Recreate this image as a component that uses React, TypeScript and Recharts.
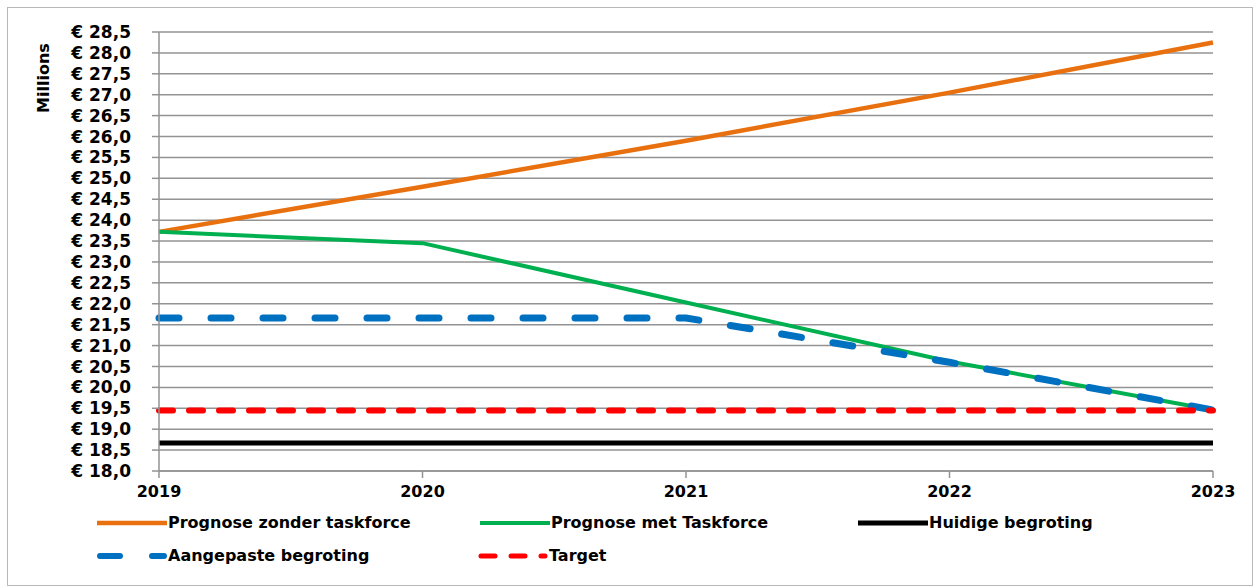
import React from "react";
import {
  CartesianGrid,
  Legend,
  Line,
  LineChart,
  XAxis,
  YAxis,
} from "recharts";

const YEARS = ["2019", "2020", "2021", "2022", "2023"];
const ZONDER_TASKFORCE = [23.72, 24.8, 25.9, 27.05, 28.25];
const MET_TASKFORCE = [23.72, 23.45, 22.03, 20.62, 19.46];
const HUIDIGE_BEGROTING = [18.67, 18.67, 18.67, 18.67, 18.67];
const AANGEPASTE_BEGROTING = [21.66, 21.66, 21.66, 20.6, 19.46];
const TARGET = [19.45, 19.45, 19.45, 19.45, 19.45];

const Y_TICKS = [
  18, 18.5, 19, 19.5, 20, 20.5, 21, 21.5, 22, 22.5, 23, 23.5, 24, 24.5, 25,
  25.5, 26, 26.5, 27, 27.5, 28, 28.5,
];

const FONT = "'DejaVu Sans', Verdana, sans-serif";

const data = YEARS.map((year, i) => ({
  year,
  zonder: ZONDER_TASKFORCE[i],
  met: MET_TASKFORCE[i],
  huidige: HUIDIGE_BEGROTING[i],
  aangepast: AANGEPASTE_BEGROTING[i],
  target: TARGET[i],
}));

type SeriesDef = {
  key: string;
  name: string;
  color: string;
  width: number;
  dash?: string;
  // legend slot
  lx: number;
  row: number;
};

const SERIES: SeriesDef[] = [
  { key: "zonder", name: "Prognose zonder taskforce", color: "#E8700E", width: 4.5, lx: 97, row: 0 },
  { key: "met", name: "Prognose met Taskforce", color: "#00B050", width: 4, lx: 480, row: 0 },
  { key: "huidige", name: "Huidige begroting", color: "#000000", width: 5, lx: 858, row: 0 },
  { key: "aangepast", name: "Aangepaste begroting", color: "#0070C0", width: 7, dash: "20 32", lx: 97, row: 1 },
  { key: "target", name: "Target", color: "#FF0000", width: 6, dash: "14 16", lx: 478, row: 1 },
];

const fmtEuro = (v: number) => `€ ${v.toFixed(1).replace(".", ",")}`;

function LegendBlock() {
  return (
    <div style={{ position: "relative", width: 1257, height: 80 }}>
      {SERIES.map((s) => {
        const top = s.row === 0 ? 15 : 48;
        return (
          <div key={s.key}>
            <svg
              width={74}
              height={12}
              style={{ position: "absolute", left: s.lx - 2, top: top - 6 }}
            >
              <line
                x1={s.dash ? 5 : 2}
                y1={6}
                x2={s.dash ? 69 : 72}
                y2={6}
                stroke={s.color}
                strokeWidth={s.dash ? s.width - 1 : s.width}
                strokeDasharray={s.dash}
                strokeLinecap={s.dash ? "round" : "butt"}
              />
            </svg>
            <span
              style={{
                position: "absolute",
                left: s.lx + 71,
                top: top - 10,
                fontFamily: FONT,
                fontWeight: "bold",
                fontSize: 16,
                lineHeight: "20px",
                whiteSpace: "nowrap",
                color: "#000",
              }}
            >
              {s.name}
            </span>
          </div>
        );
      })}
    </div>
  );
}

export default function App() {
  return (
    <div
      style={{
        position: "fixed",
        left: 0,
        top: 0,
        width: 1257,
        height: 588,
        background: "#fff",
        fontFamily: FONT,
      }}
    >
      <div
        style={{
          position: "absolute",
          left: 7,
          top: 7,
          width: 1244,
          height: 577,
          border: "1px solid #b8b8b8",
        }}
      />
      <LineChart
        width={1257}
        height={588}
        data={data}
        margin={{ top: 32, right: 44, bottom: 0, left: 0 }}
      >
        <CartesianGrid
          vertical={false}
          stroke="#939393"
          strokeWidth={1.5}
        />
        <XAxis
          dataKey="year"
          height={37}
          tickSize={7}
          tickMargin={8}
          stroke="#939393"
          strokeWidth={1.5}
          tick={{ fill: "#000", fontSize: 16, fontWeight: "bold", fontFamily: FONT }}
          interval={0}
        />
        <YAxis
          width={159}
          domain={[18, 28.5]}
          ticks={Y_TICKS}
          interval={0}
          allowDataOverflow
          tickSize={7}
          tickMargin={21}
          stroke="#939393"
          strokeWidth={1.5}
          tickFormatter={fmtEuro}
          tick={{ fill: "#000", fontSize: 17, fontWeight: "bold", fontFamily: FONT }}
          label={{
            content: ({ viewBox }: any) => {
              const x = (viewBox?.x ?? 0) + 49;
              const y = (viewBox?.y ?? 32) + 46;
              return (
                <text
                  x={x}
                  y={y}
                  transform={`rotate(-90 ${x} ${y})`}
                  textAnchor="middle"
                  fontFamily={FONT}
                  fontWeight="bold"
                  fontSize={16}
                  fill="#000"
                >
                  Millions
                </text>
              );
            },
          }}
        />
        <Legend
          verticalAlign="bottom"
          height={80}
          content={() => <LegendBlock />}
          wrapperStyle={{ left: 0, width: 1257 }}
        />
        {SERIES.map((s) => (
          <Line
            key={s.key}
            type="linear"
            dataKey={s.key}
            name={s.name}
            stroke={s.color}
            strokeWidth={s.width}
            strokeDasharray={s.dash}
            strokeLinecap={s.dash ? "round" : "butt"}
            dot={false}
            activeDot={false}
            isAnimationActive={false}
          />
        ))}
      </LineChart>
    </div>
  );
}
